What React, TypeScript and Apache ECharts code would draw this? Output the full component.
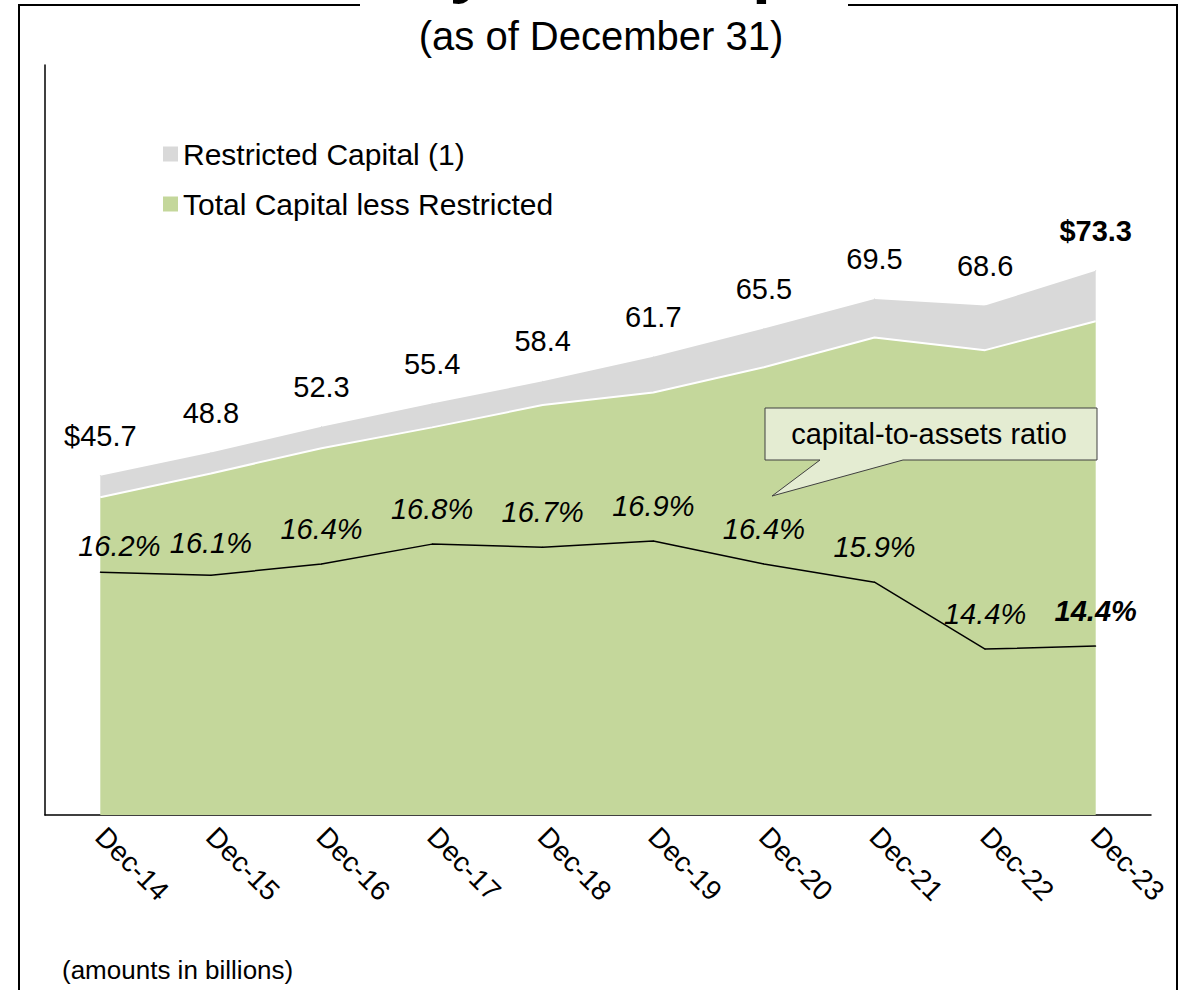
import React, { useEffect, useRef } from "react";
import * as echarts from "echarts";

const categories = ["Dec-14", "Dec-15", "Dec-16", "Dec-17", "Dec-18", "Dec-19", "Dec-20", "Dec-21", "Dec-22", "Dec-23"];
const totalCapital = [45.7, 48.8, 52.3, 55.4, 58.4, 61.7, 65.5, 69.5, 68.6, 73.3];
const restrictedCapital = [2.9, 2.8, 2.9, 3.2, 3.2, 4.8, 5.2, 5.2, 6.0, 6.8];
const capitalToAssets = [16.18, 16.11, 16.37, 16.83, 16.76, 16.9, 16.37, 15.95, 14.4, 14.47];
const ratioLabels = ["16.2%", "16.1%", "16.4%", "16.8%", "16.7%", "16.9%", "16.4%", "15.9%", "14.4%", "14.4%"];

const FONT = "'Liberation Sans', Arial, sans-serif";
const GREEN = "#c4d79b";
const GREY = "#d9d9d9";

export default function App() {
  const ref = useRef<HTMLDivElement>(null);
  useEffect(() => {
    if (!ref.current) return;
    const chart = echarts.init(ref.current, undefined, { renderer: "svg" });
    const last = categories.length - 1;
    const lessRestricted = totalCapital.map((t, i) => Math.round((t - restrictedCapital[i]) * 10) / 10);

    const option: any = {
      animation: false,
      backgroundColor: "#ffffff",
      textStyle: { fontFamily: FONT },
      grid: { left: 45, right: 30, top: 65, bottom: 175, containLabel: false },
      legend: {
        orient: "vertical",
        left: 158,
        top: 134,
        itemWidth: 15,
        itemHeight: 15,
        itemGap: 20,
        icon: "rect",
        textStyle: { fontSize: 30, color: "#000", fontFamily: FONT },
        data: [
          { name: "Restricted Capital (1)", itemStyle: { color: GREY } },
          { name: "Total Capital less Restricted", itemStyle: { color: GREEN } },
        ],
      },
      xAxis: {
        type: "category",
        data: categories,
        boundaryGap: true,
        axisLine: { lineStyle: { color: "#000", width: 1.5 } },
        axisTick: { show: false },
        axisLabel: {
          rotate: -45,
          margin: 17,
          fontSize: 28,
          color: "#000",
          fontFamily: FONT,
        },
      },
      yAxis: [
        {
          type: "value",
          min: 0,
          max: 101,
          axisLine: { show: true, lineStyle: { color: "#000", width: 1.5 } },
          axisTick: { show: false },
          axisLabel: { show: false },
          splitLine: { show: false },
        },
        {
          type: "value",
          min: 10.56,
          max: 27.92,
          show: false,
          splitLine: { show: false },
        },
      ],
      series: [
        {
          name: "Total Capital less Restricted",
          type: "line",
          stack: "cap",
          data: lessRestricted,
          symbol: "none",
          z: 3,
          color: GREEN,
          itemStyle: { color: GREEN },
          lineStyle: { color: "#ffffff", width: 2 },
          areaStyle: { color: GREEN, opacity: 1 },
        },
        {
          name: "Restricted Capital (1)",
          type: "line",
          stack: "cap",
          data: restrictedCapital.map((v, i) =>
            i === last ? { value: v, label: { fontWeight: "bold" } } : v
          ),
          symbol: "circle",
          symbolSize: 1,
          showSymbol: true,
          z: 2,
          color: GREY,
          itemStyle: { color: GREY },
          lineStyle: { width: 0, color: GREY },
          areaStyle: { color: GREY, opacity: 1 },
          label: {
            show: true,
            position: "top",
            distance: 25,
            fontSize: 29,
            color: "#000",
            fontFamily: FONT,
            formatter: (p: any) => {
              const i = p.dataIndex;
              const t = totalCapital[i].toFixed(1);
              return i === 0 || i === last ? "$" + t : t;
            },
          },
        },
        {
          name: "capital-to-assets ratio",
          type: "line",
          yAxisIndex: 1,
          data: capitalToAssets.map((v, i) => {
            if (i === 0) return { value: v, label: { offset: [19, 9] } };
            if (i === 1) return { value: v, label: { offset: [0, 3] } };
            if (i === last) return { value: v, label: { fontWeight: "bold" } };
            return v;
          }),
          symbol: "circle",
          symbolSize: 1,
          showSymbol: true,
          z: 4,
          itemStyle: { color: "#000" },
          lineStyle: { color: "#000", width: 1.5 },
          label: {
            show: true,
            position: "top",
            distance: 20,
            fontSize: 29,
            fontStyle: "italic",
            color: "#000",
            fontFamily: FONT,
            formatter: (p: any) => ratioLabels[p.dataIndex],
          },
        },
      ],
      graphic: [
        { type: "line", z: 50, shape: { x1: 19, y1: 5, x2: 19, y2: 995 }, style: { stroke: "#000", lineWidth: 2 } },
        { type: "line", z: 50, shape: { x1: 1177, y1: 5, x2: 1177, y2: 995 }, style: { stroke: "#000", lineWidth: 2 } },
        { type: "line", z: 50, shape: { x1: 18, y1: 5, x2: 360, y2: 5 }, style: { stroke: "#000", lineWidth: 2 } },
        { type: "line", z: 50, shape: { x1: 848, y1: 5, x2: 1178, y2: 5 }, style: { stroke: "#000", lineWidth: 2 } },
        {
          type: "text",
          z: 50,
          x: 648,
          y: -34,
          style: {
            text: "System Capital",
            fontSize: 68,
            fontWeight: "bold",
            fontFamily: FONT,
            fill: "#000",
            align: "center",
            verticalAlign: "middle",
          },
        },
        {
          type: "text",
          z: 50,
          x: 601,
          y: 36,
          style: {
            text: "(as of December 31)",
            fontSize: 40,
            fontFamily: FONT,
            fill: "#000",
            align: "center",
            verticalAlign: "middle",
          },
        },
        {
          type: "text",
          z: 50,
          x: 62,
          y: 970,
          style: {
            text: "(amounts in billions)",
            fontSize: 26,
            fontFamily: FONT,
            fill: "#000",
            align: "left",
            verticalAlign: "middle",
          },
        },
        {
          type: "polygon",
          z: 60,
          shape: {
            points: [
              [765, 408], [1097, 408], [1097, 460], [903, 460], [772, 496], [820, 460], [765, 460],
            ],
          },
          style: { fill: "#e4ecd2", stroke: "#404040", lineWidth: 1 },
        },
        {
          type: "text",
          z: 61,
          x: 929,
          y: 434,
          style: {
            text: "capital-to-assets ratio",
            fontSize: 29,
            fontFamily: FONT,
            fill: "#000",
            align: "center",
            verticalAlign: "middle",
          },
        },
      ],
    };
    chart.setOption(option);
    return () => chart.dispose();
  }, []);
  return (
    <div
      ref={ref}
      style={{ position: "absolute", left: 0, top: 0, width: 1181, height: 990, background: "#fff" }}
    />
  );
}
